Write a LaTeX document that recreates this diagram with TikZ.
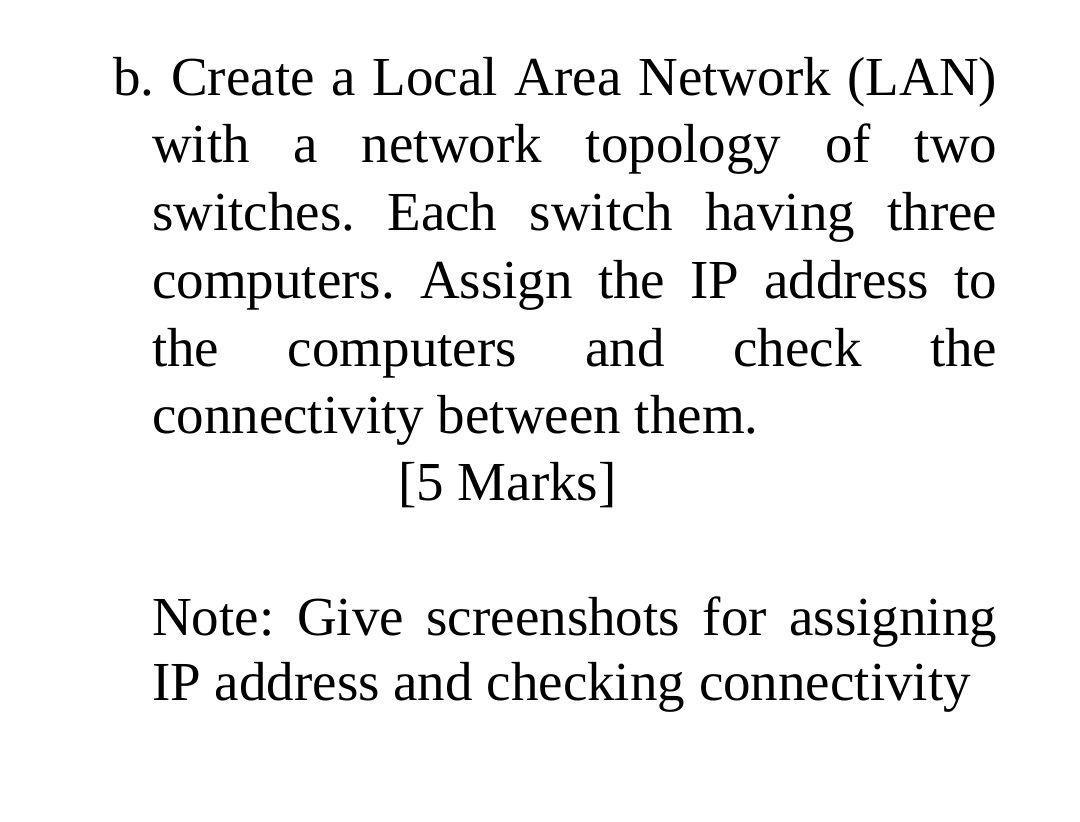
\documentclass[tikz,border=0pt]{standalone}
\usepackage{fontspec}
\setmainfont{Liberation Serif}
\begin{document}
\frenchspacing
\begin{tikzpicture}[x=1pt,y=1pt,ln/.style={anchor=base west,inner sep=0pt,font=\fontsize{55}{60}\selectfont}]
\useasboundingbox[fill=white] (0,0) rectangle (1080,-822);
\node[ln] (l1) at (113,-95) {\makebox[884pt][s]{b. Create a Local Area Network (LAN)}};
\node[ln] (l2) at (152,-162) {\makebox[845pt][s]{with a network topology of two}};
\node[ln] (l3) at (152,-230) {\makebox[845pt][s]{switches. Each switch having three}};
\node[ln] (l4) at (152,-298) {\makebox[845pt][s]{computers. Assign the IP address to}};
\node[ln] (l5) at (152,-366) {\makebox[845pt][s]{the computers and check the}};
\node[ln] (l6) at (152,-433) {connectivity between them.};
\node[ln] (l7) at (398,-500) {[5 Marks]};
\node[ln] (l8) at (152,-635) {\makebox[845pt][s]{Note: Give screenshots for assigning}};
\node[ln] (l9) at (152,-700) {IP address and checking connectivity};
\end{tikzpicture}
\end{document}
